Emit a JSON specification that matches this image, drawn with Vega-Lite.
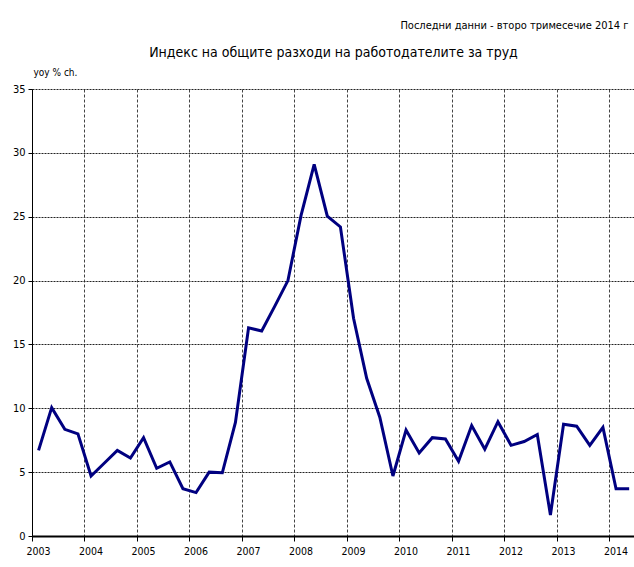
{
  "$schema": "https://vega.github.io/schema/vega-lite/v6.json",
  "autosize": "none",
  "padding": {"left": 32, "top": 89, "right": 0, "bottom": 31},
  "width": 602,
  "height": 447,
  "background": "white",
  "config": {
    "font": "DejaVu Sans Condensed",
    "view": {"stroke": null},
    "axis": {"labelFont": "DejaVu Sans Condensed", "titleFont": "DejaVu Sans Condensed", "labelColor": "black", "titleColor": "black"}
  },
  "data": {
    "values": [
      {"t": 2003.125, "v": 6.7}, {"t": 2003.375, "v": 10.05}, {"t": 2003.625, "v": 8.35}, {"t": 2003.875, "v": 8.0},
      {"t": 2004.125, "v": 4.7}, {"t": 2004.375, "v": 5.7}, {"t": 2004.625, "v": 6.7}, {"t": 2004.875, "v": 6.1},
      {"t": 2005.125, "v": 7.7}, {"t": 2005.375, "v": 5.3}, {"t": 2005.625, "v": 5.8}, {"t": 2005.875, "v": 3.7},
      {"t": 2006.125, "v": 3.4}, {"t": 2006.375, "v": 5.0}, {"t": 2006.625, "v": 4.95}, {"t": 2006.875, "v": 8.9},
      {"t": 2007.125, "v": 16.3}, {"t": 2007.375, "v": 16.05}, {"t": 2007.625, "v": 18.0}, {"t": 2007.875, "v": 20.0},
      {"t": 2008.125, "v": 25.1}, {"t": 2008.375, "v": 29.1}, {"t": 2008.625, "v": 25.05}, {"t": 2008.875, "v": 24.2},
      {"t": 2009.125, "v": 17.05}, {"t": 2009.375, "v": 12.35}, {"t": 2009.625, "v": 9.3}, {"t": 2009.875, "v": 4.7},
      {"t": 2010.125, "v": 8.3}, {"t": 2010.375, "v": 6.5}, {"t": 2010.625, "v": 7.7}, {"t": 2010.875, "v": 7.6},
      {"t": 2011.125, "v": 5.85}, {"t": 2011.375, "v": 8.65}, {"t": 2011.625, "v": 6.8}, {"t": 2011.875, "v": 8.95},
      {"t": 2012.125, "v": 7.1}, {"t": 2012.375, "v": 7.4}, {"t": 2012.625, "v": 7.95}, {"t": 2012.875, "v": 1.65},
      {"t": 2013.125, "v": 8.75}, {"t": 2013.375, "v": 8.6}, {"t": 2013.625, "v": 7.1}, {"t": 2013.875, "v": 8.5},
      {"t": 2014.125, "v": 3.7}, {"t": 2014.375, "v": 3.7}
    ]
  },
  "resolve": {"axis": {"x": "independent", "y": "independent"}},
  "layer": [
    {
      "mark": {"type": "line", "color": "#000080", "strokeWidth": 3, "strokeJoin": "miter", "clip": true},
      "encoding": {
        "x": {
          "field": "t", "type": "quantitative",
          "scale": {"domain": [2003, 2014.467], "nice": false, "zero": false},
          "axis": {
            "orient": "bottom",
            "values": [2003, 2004, 2005, 2006, 2007, 2008, 2009, 2010, 2011, 2012, 2013, 2014],
            "format": "d",
            "title": null,
            "labelFontSize": 10.5,
            "labelOffset": 6,
            "labelPadding": 5,
            "labelAngle": 0,
            "labelFlush": false,
            "labelOverlap": false,
            "tickSize": 5,
            "tickColor": "black",
            "domainColor": "black",
            "domainWidth": 2,
            "grid": true,
            "gridColor": "#444444",
            "gridDash": [3, 2],
            "gridWidth": 1
          }
        },
        "y": {
          "field": "v", "type": "quantitative",
          "scale": {"domain": [0, 35], "nice": false},
          "axis": {
            "values": [0, 5, 10, 15, 20, 25, 30, 35],
            "title": "yoy % ch.",
            "titleAngle": 0,
            "titleFontSize": 10,
            "titleFontWeight": "normal",
            "titleAlign": "left",
            "titleBaseline": "middle",
            "titleX": 1,
            "titleY": -17,
            "labelFontSize": 11,
            "labelPadding": 3,
            "tickSize": 4,
            "tickColor": "black",
            "domainColor": "black",
            "domainWidth": 1,
            "grid": true,
            "gridColor": "#222222",
            "gridDash": [2, 1],
            "gridWidth": 1
          }
        }
      }
    },
    {
      "mark": {"type": "line", "opacity": 0},
      "encoding": {
        "x": {
          "field": "t", "type": "quantitative",
          "axis": {
            "orient": "top",
            "labels": false,
            "ticks": false,
            "domain": false,
            "grid": false,
            "title": "Индекс на общите разходи на работодателите за труд",
            "titleFontSize": 14,
            "titleFontWeight": "normal",
            "titleAlign": "center",
            "titleAnchor": null,
            "titleBaseline": "middle",
            "titleX": 301,
            "titleY": -37
          }
        },
        "y": {
          "field": "v", "type": "quantitative",
          "axis": {
            "orient": "right",
            "labels": false,
            "ticks": false,
            "domain": false,
            "grid": false,
            "title": "Последни данни - второ тримесечие 2014 г",
            "titleAngle": 0,
            "titleFontSize": 11,
            "titleFontWeight": "normal",
            "titleAlign": "right",
            "titleAnchor": null,
            "titleBaseline": "middle",
            "titleX": -6,
            "titleY": -64
          }
        }
      }
    }
  ]
}
